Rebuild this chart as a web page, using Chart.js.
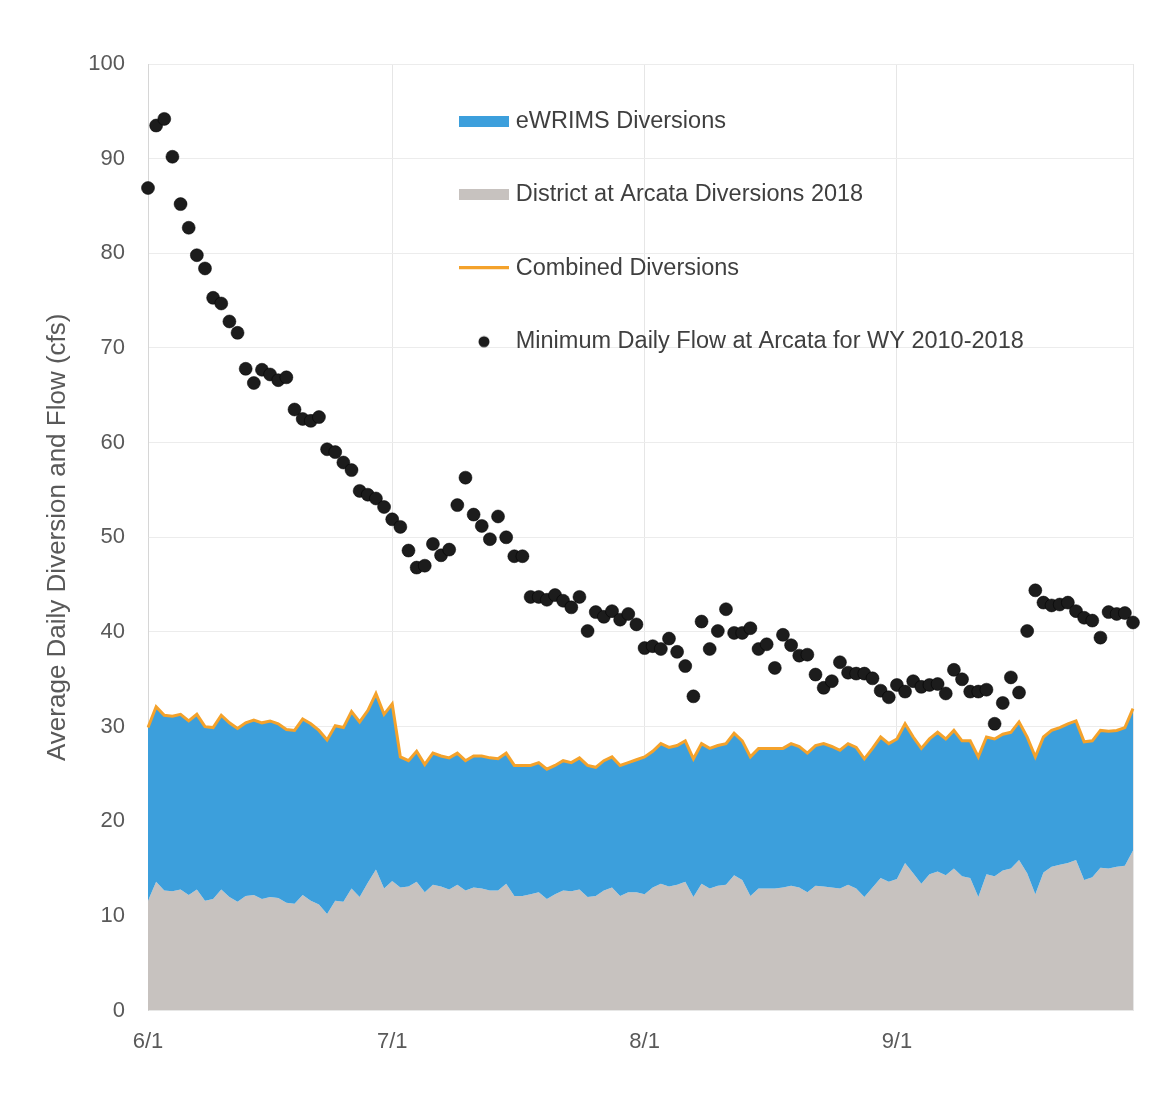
<!DOCTYPE html>
<html>
<head>
<meta charset="utf-8">
<script src="https://cdn.jsdelivr.net/npm/chart.js@4.4.1/dist/chart.umd.min.js"></script>
<style>
  html, body { margin: 0; padding: 0; background: #fff; }
</style>
</head>
<body>
<canvas id="flow-chart" width="1161" height="1096"></canvas>
<script>
// minimum daily flow at Arcata, WY 2010-2018 (cfs), one value per day 6/1 - 9/30
const minFlow = [
    86.9, 93.5, 94.2, 90.2, 85.2, 82.7, 79.8, 78.4, 75.3, 74.7,
    72.8, 71.6, 67.8, 66.3, 67.7, 67.2, 66.6, 66.9, 63.5, 62.5,
    62.3, 62.7, 59.3, 59.0, 57.9, 57.1, 54.9, 54.5, 54.1, 53.2,
    51.9, 51.1, 48.6, 46.8, 47.0, 49.3, 48.1, 48.7, 53.4, 56.3,
    52.4, 51.2, 49.8, 52.2, 50.0, 48.0, 48.0, 43.7, 43.7, 43.4,
    43.9, 43.3, 42.6, 43.7, 40.1, 42.1, 41.6, 42.2, 41.3, 41.9,
    40.8, 38.3, 38.5, 38.2, 39.3, 37.9, 36.4, 33.2, 41.1, 38.2,
    40.1, 42.4, 39.9, 39.9, 40.4, 38.2, 38.7, 36.2, 39.7, 38.6,
    37.5, 37.6, 35.5, 34.1, 34.8, 36.8, 35.7, 35.6, 35.6, 35.1,
    33.8, 33.1, 34.4, 33.7, 34.8, 34.2, 34.4, 34.5, 33.5, 36.0,
    35.0, 33.7, 33.7, 33.9, 30.3, 32.5, 35.2, 33.6, 40.1, 44.4,
    43.1, 42.8, 42.9, 43.1, 42.2, 41.5, 41.2, 39.4, 42.1, 41.9,
    42.0, 41.0
];

// combined (district + eWRIMS) diversions
const combined = [
    29.9, 32.1, 31.2, 31.1, 31.3, 30.6, 31.3, 30.0, 29.9, 31.2,
    30.4, 29.8, 30.4, 30.7, 30.4, 30.6, 30.3, 29.7, 29.6, 30.8,
    30.3, 29.6, 28.6, 30.1, 29.9, 31.6, 30.5, 31.7, 33.5, 31.3,
    32.4, 26.8, 26.4, 27.4, 26.0, 27.2, 26.9, 26.7, 27.2, 26.4,
    26.9, 26.9, 26.7, 26.6, 27.2, 25.9, 25.9, 25.9, 26.2, 25.5,
    25.9, 26.4, 26.2, 26.7, 25.9, 25.7, 26.4, 26.8, 25.9, 26.2,
    26.5, 26.8, 27.4, 28.2, 27.8, 28.0, 28.5, 26.6, 28.2, 27.7,
    28.0, 28.2, 29.3, 28.5, 26.8, 27.7, 27.7, 27.7, 27.7, 28.2,
    27.9, 27.2, 28.0, 28.2, 27.9, 27.5, 28.2, 27.8, 26.6, 27.7,
    28.9, 28.2, 28.7, 30.3, 28.9, 27.7, 28.7, 29.4, 28.7, 29.6,
    28.5, 28.5, 26.8, 28.9, 28.7, 29.2, 29.4, 30.5, 28.9, 26.8,
    28.9, 29.6, 29.9, 30.3, 30.6, 28.4, 28.5, 29.6, 29.5, 29.6,
    29.9, 31.9
];

// District at Arcata diversions 2018
const district = [
    11.6, 13.6, 12.7, 12.6, 12.8, 12.2, 12.8, 11.6, 11.8, 12.8,
    12.0, 11.5, 12.1, 12.2, 11.8, 12.0, 11.9, 11.4, 11.3, 12.2,
    11.6, 11.2, 10.2, 11.6, 11.5, 12.9, 12.0, 13.5, 14.9, 12.9,
    13.7, 13.0, 13.1, 13.6, 12.5, 13.3, 13.1, 12.8, 13.3, 12.7,
    13.0, 12.9, 12.7, 12.7, 13.4, 12.1, 12.1, 12.3, 12.5, 11.8,
    12.3, 12.7, 12.6, 12.8, 12.0, 12.1, 12.7, 13.0, 12.1, 12.5,
    12.5, 12.3, 13.0, 13.4, 13.1, 13.3, 13.6, 12.0, 13.4, 12.9,
    13.2, 13.3, 14.3, 13.8, 12.1, 12.9, 12.9, 12.9, 13.0, 13.2,
    13.0, 12.5, 13.2, 13.1, 13.0, 12.9, 13.3, 12.9, 12.0, 13.0,
    14.0, 13.6, 13.9, 15.6, 14.5, 13.4, 14.4, 14.7, 14.3, 15.0,
    14.2, 14.0, 12.0, 14.4, 14.2, 14.8, 15.0, 15.9, 14.5, 12.3,
    14.6, 15.2, 15.4, 15.6, 15.9, 13.8, 14.1, 15.1, 15.0, 15.2,
    15.3, 16.9
];

const months = [6, 7, 8, 9];
const monthDays = [30, 31, 31, 30];
const dates = [];
months.forEach((m, i) => {
    for (let d = 1; d <= monthDays[i]; d++) dates.push(m + '/' + d);
});

const BLUE = '#3C9FDC';
const GREY = '#C7C2BF';
const ORANGE = '#F4A22B';
const DOT = '#1c1c1c';
const TEXT = '#595959';

Chart.defaults.font.family = '"Liberation Sans", Arial, sans-serif';

function marker(w, h, draw) {
    const c = document.createElement('canvas');
    c.width = w;
    c.height = h;
    draw(c.getContext('2d'));
    return c;
}
const legendMarkers = [
    marker(50, 11, g => { g.fillStyle = BLUE; g.fillRect(0, 0, 50, 11); }),
    marker(50, 11, g => { g.fillStyle = GREY; g.fillRect(0, 0, 50, 11); }),
    marker(50, 4, g => { g.fillStyle = ORANGE; g.fillRect(0, 0, 50, 3); }),
    marker(50, 14, g => { g.fillStyle = DOT; g.beginPath(); g.arc(25, 7, 5.5, 0, Math.PI * 2); g.fill(); })
];

// put the legend inside the plot, upper right
const legendSpot = {
    id: 'legendSpot',
    afterLayout(chart) {
        const lg = chart.legend;
        if (!lg) return;
        lg.left = chart.chartArea.left + 266;
        lg.top = chart.chartArea.top - 4.5;
    }
};

const isMonthStart = i => dates[i] && dates[i].endsWith('/1');

new Chart(document.getElementById('flow-chart'), {
    type: 'line',
    data: {
        labels: dates,
        datasets: [{
                label: 'eWRIMS Diversions',
                data: combined,
                fill: 1,
                backgroundColor: BLUE,
                borderColor: 'rgba(0,0,0,0)',
                borderWidth: 0,
                pointRadius: 0,
                order: 2
            }, {
                label: 'District at Arcata Diversions 2018',
                data: district,
                fill: 'origin',
                backgroundColor: GREY,
                borderColor: 'rgba(0,0,0,0)',
                borderWidth: 0,
                pointRadius: 0,
                order: 3
            }, {
                label: 'Combined Diversions',
                data: combined,
                fill: false,
                borderColor: ORANGE,
                borderWidth: 3,
                pointRadius: 0,
                order: 1
            }, {
                label: 'Minimum Daily Flow at Arcata for WY 2010-2018',
                data: minFlow,
                showLine: false,
                pointRadius: 6.5,
                pointBackgroundColor: DOT,
                pointBorderColor: '#000',
                pointBorderWidth: 0.5,
                order: 0
            }]
    },
    options: {
        responsive: false,
        animation: false,
        layout: {
            padding: { left: 40, right: 28, top: 64, bottom: 23 }
        },
        plugins: {
            tooltip: { enabled: false },
            legend: {
                position: 'chartArea',
                align: 'start',
                labels: {
                    usePointStyle: true,
                    pointStyleWidth: 40,
                    padding: 50,
                    color: '#3f3f3f',
                    font: { size: 23.5 },
                    sort: (a, b) => a.datasetIndex - b.datasetIndex,
                    generateLabels(chart) {
                        const items = Chart.defaults.plugins.legend.labels.generateLabels(chart);
                        items.forEach(it => { it.pointStyle = legendMarkers[it.datasetIndex]; });
                        return items;
                    }
                }
            }
        },
        scales: {
            x: {
                type: 'category',
                offset: false,
                border: { display: false },
                grid: {
                    drawTicks: false,
                    color: ctx => (isMonthStart(ctx.index) || ctx.index === dates.length - 1) ? '#e6e6e6' : 'rgba(0,0,0,0)'
                },
                ticks: {
                    autoSkip: false,
                    maxRotation: 0,
                    padding: 18,
                    color: TEXT,
                    font: { size: 22 },
                    callback: (v, i) => isMonthStart(i) ? dates[i] : ''
                }
            },
            y: {
                min: 0,
                max: 100,
                border: { display: true, color: '#d6d6d6' },
                grid: { drawTicks: false, color: '#ececec' },
                ticks: {
                    stepSize: 10,
                    padding: 23,
                    color: TEXT,
                    font: { size: 22 }
                },
                title: {
                    display: true,
                    text: 'Average Daily Diversion and Flow (cfs)',
                    color: TEXT,
                    font: { size: 26 },
                    padding: { top: 2, bottom: 0 }
                },
                afterFit(scale) {
                    scale.width = 108;
                }
            }
        }
    },
    plugins: [legendSpot]
});
</script>
</body>
</html>
